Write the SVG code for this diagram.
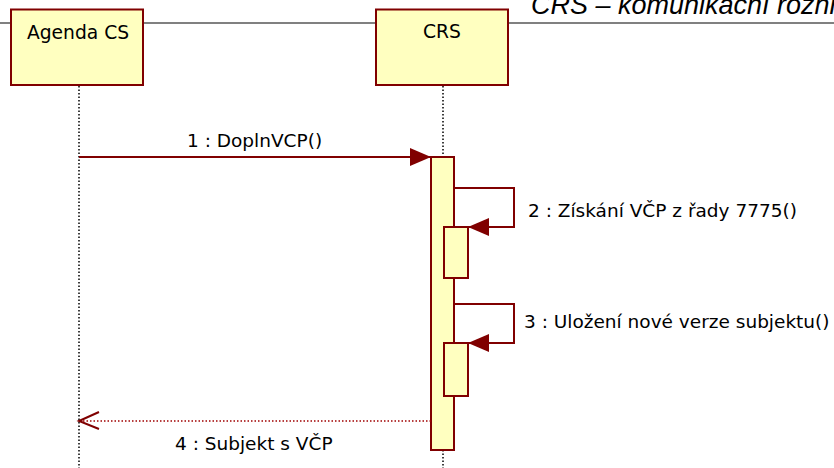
<svg xmlns="http://www.w3.org/2000/svg" width="834" height="468" viewBox="0 0 834 468">
<defs>
<style>
.box{fill:#FFFFC0;stroke:#800000;stroke-width:2}
.act{fill:#FFFFC0;stroke:#800000;stroke-width:2}
.life{stroke:#000;stroke-width:1.5;stroke-dasharray:1.5 2;fill:none}
.msg{stroke:#800000;stroke-width:2;fill:none}
.ret{stroke:#A00000;stroke-width:1.5;stroke-dasharray:1.5 2;fill:none}
.lbl{font-family:"DejaVu Sans",sans-serif;font-size:18.5px;fill:#000}
.name{font-family:"DejaVu Sans",sans-serif;font-size:18.7px;fill:#000;text-anchor:middle}
.title{font-family:"Liberation Sans",Arial,sans-serif;font-size:27px;font-style:italic;fill:#000}
</style>
<marker id="filled" markerWidth="22" markerHeight="18" refX="21" refY="9" orient="auto" markerUnits="userSpaceOnUse">
<path d="M0,0 L21,9 L0,18 Z" fill="#800000"/>
</marker>
</defs>
<rect width="834" height="468" fill="#fff"/>
<g id="frame">
<line x1="0" y1="23" x2="834" y2="23" stroke="#808080" stroke-width="2"/>
<text class="title" x="531" y="14">CRS – komunikační rozhr</text>
</g>
<g id="lifelines">
<line class="life" x1="79" y1="86" x2="79" y2="468"/>
<line class="life" x1="443" y1="86" x2="443" y2="468"/>
</g>
<g id="agenda">
<rect class="box" x="11" y="9.5" width="132" height="75.5"/>
<text class="name" x="78" y="39">Agenda CS</text>
</g>
<g id="crs">
<rect class="box" x="376" y="9.5" width="132" height="75.5"/>
<text class="name" x="442" y="38">CRS</text>
</g>
<g id="activations">
<rect class="act" x="431" y="157" width="23" height="293"/>
<rect class="act" x="444" y="227" width="24" height="51"/>
<rect class="act" x="444" y="343" width="24" height="53"/>
</g>
<g id="connectors">
<line class="msg" x1="79" y1="157" x2="431" y2="157" marker-end="url(#filled)"/>
<polyline class="msg" points="454,188 514,188 514,227 468,227" marker-end="url(#filled)"/>
<polyline class="msg" points="454,304 514,304 514,343 468,343" marker-end="url(#filled)"/>
<line class="ret" x1="431" y1="421" x2="80" y2="421"/>
<polyline points="99,412 79,421 99,429" fill="none" stroke="#800000" stroke-width="2"/>
</g>
<g id="labels">
<text class="lbl" x="187" y="147">1 : DoplnVCP()</text>
<text class="lbl" x="528" y="217">2 : Získání VČP z řady 7775()</text>
<text class="lbl" x="524" y="328">3 : Uložení nové verze subjektu()</text>
<text class="lbl" x="175" y="450">4 : Subjekt s VČP</text>
</g>
</svg>
